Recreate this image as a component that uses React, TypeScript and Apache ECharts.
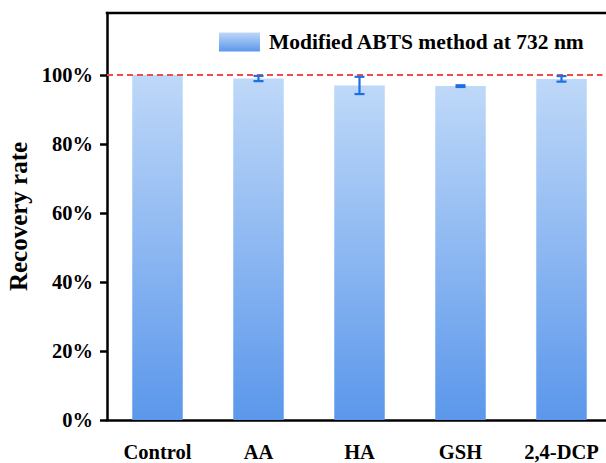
import React, { useEffect, useRef } from "react";
import * as echarts from "echarts";

// Recovery rate per sample, with standard deviation
const categories = ["Control", "AA", "HA", "GSH", "2,4-DCP"];
const recovery = [100, 99.0, 97.0, 96.8, 98.9];
const deviation = [0, 0.75, 2.5, 0.25, 0.8];
const yTickValues = [0, 20, 40, 60, 80, 100];
const seriesName = "Modified ABTS method at 732 nm";
const referenceLevel = 100;

const FONT = "'Liberation Serif', 'Times New Roman', serif";
const GRID = { left: 107, top: 13, width: 505, height: 407 };

export default function App() {
  const ref = useRef<HTMLDivElement>(null);

  useEffect(() => {
    document.body.style.margin = "0";
    if (!ref.current) return;
    const chart = echarts.init(ref.current, undefined, { renderer: "svg" });

    const errorData = categories.map((_, i) => [
      i,
      recovery[i] - deviation[i],
      recovery[i] + deviation[i],
      deviation[i],
    ]);

    chart.setOption({
      animation: false,
      backgroundColor: "#fff",
      textStyle: { fontFamily: FONT },
      grid: {
        ...GRID,
        containLabel: false,
        outerBoundsMode: "none",
      },
      graphic: [
        // top frame line of the plot area (open on the right)
        {
          type: "line",
          shape: { x1: GRID.left - 1.25, y1: GRID.top, x2: GRID.left + GRID.width, y2: GRID.top },
          style: { stroke: "#000", lineWidth: 2.5 },
          z: 10,
        },
        // keep the cut-off right side of the plot area clear
        {
          type: "rect",
          shape: { x: 602.5, y: GRID.top + 2, width: 10, height: GRID.height - 4 },
          style: { fill: "#fff" },
          z: 100,
        },
      ],
      legend: {
        left: 214,
        top: 26,
        icon: "rect",
        itemWidth: 41,
        itemHeight: 19,
        data: [seriesName],
        textStyle: {
          fontFamily: FONT,
          fontWeight: "bold",
          fontSize: 21.5,
          color: "#000",
          padding: [0, 0, 0, 4],
        },
      },
      xAxis: {
        type: "category",
        data: categories,
        splitLine: { show: false },
        axisLine: { lineStyle: { color: "#000", width: 2.5 } },
        axisTick: {
          alignWithLabel: true,
          length: 7,
          lineStyle: { color: "#000", width: 2.5 },
        },
        axisLabel: {
          interval: 0,
          margin: 21,
          fontFamily: FONT,
          fontWeight: "bold",
          fontSize: 20.5,
          color: "#000",
        },
      },
      yAxis: {
        type: "value",
        min: 0,
        max: 118,
        interval: 20,
        name: "Recovery rate",
        nameLocation: "middle",
        nameGap: 70,
        nameTextStyle: {
          fontFamily: FONT,
          fontWeight: "bold",
          fontSize: 25,
          color: "#000",
        },
        splitLine: { show: false },
        axisLine: { show: true, lineStyle: { color: "#000", width: 2.5 } },
        axisTick: {
          show: true,
          length: 7,
          customValues: yTickValues,
          lineStyle: { color: "#000", width: 2.5 },
        },
        axisLabel: {
          margin: 14,
          customValues: yTickValues,
          formatter: (v: number) => `${v}%`,
          fontFamily: FONT,
          fontWeight: "bold",
          fontSize: 20.5,
          color: "#000",
        },
      },
      series: [
        {
          name: seriesName,
          type: "bar",
          data: recovery,
          barWidth: "50%",
          itemStyle: {
            color: new echarts.graphic.LinearGradient(0, 0, 0, 1, [
              { offset: 0, color: "#bed8f8" },
              { offset: 1, color: "#5b97eb" },
            ]),
          },
          markLine: {
            silent: true,
            symbol: "none",
            label: { show: false },
            lineStyle: { color: "#f24a4a", type: [6, 4], width: 2 },
            data: [{ yAxis: referenceLevel }],
          },
        },
        {
          type: "custom",
          name: "error",
          data: errorData,
          encode: { x: 0, y: [1, 2] },
          z: 5,
          renderItem: (_params: any, api: any) => {
            const idx = api.value(0);
            const lo = api.coord([idx, api.value(1)]);
            const hi = api.coord([idx, api.value(2)]);
            if (api.value(3) <= 0) return { type: "group", children: [] };
            const half = 5;
            const style = { stroke: "#1e6fe2", lineWidth: 2.2 };
            return {
              type: "group",
              children: [
                { type: "line", shape: { x1: hi[0], y1: hi[1], x2: lo[0], y2: lo[1] }, style },
                { type: "line", shape: { x1: hi[0] - half, y1: hi[1], x2: hi[0] + half, y2: hi[1] }, style },
                { type: "line", shape: { x1: lo[0] - half, y1: lo[1], x2: lo[0] + half, y2: lo[1] }, style },
              ],
            };
          },
        },
      ],
    });

    return () => chart.dispose();
  }, []);

  return <div ref={ref} style={{ width: 606, height: 463 }} />;
}
